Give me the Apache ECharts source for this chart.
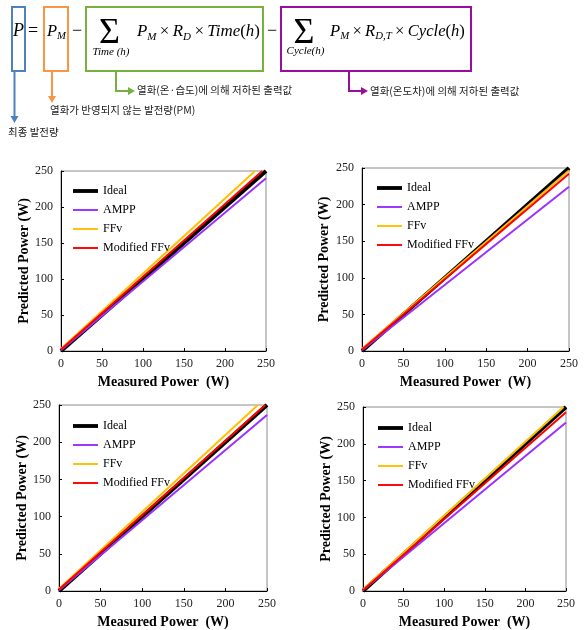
<!DOCTYPE html>
<html>
<head>
<meta charset="utf-8">
<script src="https://cdn.jsdelivr.net/npm/echarts@6/dist/echarts.min.js"></script>
<style>
  html, body { margin: 0; padding: 0; background: #fff; }
  #main { width: 588px; height: 630px; }
</style>
</head>
<body>
<div id="main"></div>
<script>
/* ===== data ===== */
var names  = ['Ideal', 'AMPP', 'FFv', 'Modified FFv'];
var colors = ['#000000', '#9B30FF', '#FFC000', '#FF0000'];
var ticks  = [0, 50, 100, 150, 200, 250];

// [measured, predicted] end points
var idealA = [[0, 0], [250, 250]];
var amppA  = [[0, 1], [250, 240]];
var ffvA   = [[0, 3], [236.6, 250]];
var modA   = [[0, 2], [245.5, 250]];

var idealB = [[0, 0], [250, 250]];
var amppB  = [[0, 1], [250, 224.5]];
var ffvB   = [[0, 3], [250, 246.5]];
var modB   = [[0, 2], [250, 242]];

var idealC = [[0, 0], [250, 250]];
var amppC  = [[0, 1], [250, 236.6]];
var ffvC   = [[0, 3], [239, 250]];
var modC   = [[0, 2], [248, 250]];

var idealD = [[0, 0], [250, 250]];
var amppD  = [[0, 1], [250, 229]];
var ffvD   = [[0, 2], [247, 250]];
var modD   = [[0, 1], [250, 243]];

var panelData = [
    [idealA, amppA, ffvA, modA],
    [idealB, amppB, ffvB, modB],
    [idealC, amppC, ffvC, modC],
    [idealD, amppD, ffvD, modD]
];

/* ===== layout ===== */
var SERIF = '"Liberation Serif", "Times New Roman", serif';
var KR = '"Noto Sans CJK KR", sans-serif';
var panels = [
    { left: 61,  top: 171, width: 205, height: 180, yGap: 30, lgLeft: 73,  lgTop: 185 },
    { left: 362, top: 168, width: 207, height: 183, yGap: 31, lgLeft: 377, lgTop: 182 },
    { left: 59,  top: 405, width: 208, height: 187, yGap: 28, lgLeft: 73,  lgTop: 420 },
    { left: 363, top: 407, width: 203, height: 187, yGap: 28, lgLeft: 378, lgTop: 422 }
];
// flat bar icons for the legend (no marker in the middle)
var thickBar = 'path://M0,0 L26,0 L26,4 L0,4 Z';
var thinBar  = 'path://M0,0 L26,0 L26,2 L0,2 Z';

var grids = [], xAxes = [], yAxes = [], legends = [], series = [];
panels.forEach(function (p, k) {
    grids.push({
        left: p.left, top: p.top, width: p.width, height: p.height,
        show: true, borderColor: '#8c8c8c', borderWidth: 1
    });
    var axisCommon = {
        type: 'value', gridIndex: k, min: 0, max: 250, interval: 50,
        nameLocation: 'middle',
        nameTextStyle: { fontFamily: SERIF, fontWeight: 'bold', fontSize: 14, color: '#000' },
        axisLine: { show: true, lineStyle: { color: '#000', width: 1 } },
        axisTick: { show: true, inside: true, length: 3, lineStyle: { color: '#000' } },
        splitLine: { show: false },
        axisLabel: { fontFamily: SERIF, fontSize: 12, color: '#222' }
    };
    xAxes.push(Object.assign({}, axisCommon, {
        name: 'Measured Power  (W)', nameGap: 24,
        axisLabel: Object.assign({}, axisCommon.axisLabel, { margin: 7 })
    }));
    yAxes.push(Object.assign({}, axisCommon, {
        name: 'Predicted Power (W)', nameGap: p.yGap,
        axisLabel: Object.assign({}, axisCommon.axisLabel, { margin: 8 })
    }));
    legends.push({
        left: p.lgLeft, top: p.lgTop, orient: 'vertical', padding: 0,
        itemWidth: 25, itemHeight: 14, itemGap: 7,
        data: names.map(function (n, i) { return { name: n, icon: i === 0 ? thickBar : thinBar }; }),
        textStyle: { fontFamily: SERIF, fontSize: 12, color: '#000' }
    });
    panelData[k].forEach(function (d, i) {
        series.push({
            name: names[i], type: 'line', xAxisIndex: k, yAxisIndex: k,
            data: d, symbol: 'none', clip: true,
            lineStyle: { color: colors[i], width: i === 0 ? 4 : 2 },
            itemStyle: { color: colors[i] }
        });
    });
});

/* ===== formula on top ===== */
var ctx = document.createElement('canvas').getContext('2d');
function fontOf(size, italic) {
    return (italic ? 'italic ' : '') + size + 'px ' + SERIF;
}
function textEl(str, x, baseline, size, italic, align, color) {
    return {
        type: 'text', x: x, y: baseline - 0.34 * size, silent: true,
        style: {
            text: str, fill: color || '#000', font: fontOf(size, italic),
            textAlign: align || 'left', textVerticalAlign: 'middle',
            align: align || 'left', verticalAlign: 'middle'
        }
    };
}
// tokens: [text, italic, subscript]; shrink the font so the run spans x..x2
function run(tokens, x, x2, baseline) {
    function widthAt(main) {
        var w = 0;
        tokens.forEach(function (t) {
            ctx.font = fontOf(t[2] ? main * 0.65 : main, t[1]);
            w += ctx.measureText(t[0]).width;
        });
        return w;
    }
    var main = 20 * (x2 - x) / widthAt(20);
    var out = [];
    tokens.forEach(function (t) {
        var size = t[2] ? main * 0.65 : main;
        out.push(textEl(t[0], x, t[2] ? baseline + main * 0.2 : baseline, size, t[1]));
        ctx.font = fontOf(size, t[1]);
        x += ctx.measureText(t[0]).width;
    });
    return out;
}
function box(x1, y1, x2, y2, color) {
    return { type: 'rect', silent: true, shape: { x: x1, y: y1, width: x2 - x1, height: y2 - y1 },
             style: { fill: 'none', stroke: color, lineWidth: 2 } };
}
function arrow(points, color, dir) {
    var last = points[points.length - 1];
    var head;
    if (dir === 'down') head = [[last[0] - 4, last[1]], [last[0] + 4, last[1]], [last[0], last[1] + 7]];
    else head = [[last[0], last[1] - 4], [last[0], last[1] + 4], [last[0] + 7, last[1]]];
    return [
        { type: 'polyline', silent: true, shape: { points: points }, style: { stroke: color, lineWidth: 2, fill: null } },
        { type: 'polygon', silent: true, shape: { points: head }, style: { fill: color } }
    ];
}
function krText(str, x, y) {
    return { type: 'text', x: x, y: y, silent: true,
             style: { text: str, fill: '#222', font: '10.5px ' + KR,
                      textAlign: 'left', textVerticalAlign: 'middle', align: 'left', verticalAlign: 'middle' } };
}

var BLUE = '#4F81BD', ORANGE = '#F79646', GREEN = '#77B041', PURPLE = '#990F99';
var BASE = 37;
var TIMES = '\u2009\u00D7\u2009';
var graphics = [];
graphics.push(box(12, 7, 25, 71, BLUE), box(44, 7, 68, 71, ORANGE),
              box(86, 7, 263, 71, GREEN), box(281, 7, 471, 71, PURPLE));
graphics.push(textEl('P', 18.5, BASE, 18, true, 'center'));
graphics.push(textEl('=', 33, BASE, 18, false, 'center'));
graphics = graphics.concat(run([['P', true], ['M', true, true]], 47, 66, BASE));
graphics.push(textEl('\u2212', 77, BASE, 18, false, 'center'));
graphics.push(textEl('\u03A3', 109.5, 46, 36, false, 'center'));
graphics.push(textEl('Time (h)', 111, 56, 11, true, 'center'));
graphics = graphics.concat(run([['P', true], ['M', true, true], [TIMES, false], ['R', true], ['D', true, true],
                                [TIMES, false], ['Time', true], ['(', false], ['h', true], [')', false]], 137, 260, BASE));
graphics.push(textEl('\u2212', 272, BASE, 18, false, 'center'));
graphics.push(textEl('\u03A3', 304, 46, 36, false, 'center'));
graphics.push(textEl('Cycle(h)', 305.5, 55, 11, true, 'center'));
graphics = graphics.concat(run([['P', true], ['M', true, true], [TIMES, false], ['R', true], ['D,T', true, true],
                                [TIMES, false], ['Cycle', true], ['(', false], ['h', true], [')', false]], 330, 465, BASE));

graphics = graphics.concat(arrow([[14.5, 71], [14.5, 116]], BLUE, 'down'));
graphics = graphics.concat(arrow([[52, 71], [52, 96]], ORANGE, 'down'));
graphics = graphics.concat(arrow([[116, 71], [116, 91], [128, 91]], GREEN, 'right'));
graphics = graphics.concat(arrow([[349, 71], [349, 91], [361, 91]], PURPLE, 'right'));

graphics.push(krText('\uC5F4\uD654(\uC628\u00B7\uC2B5\uB3C4)\uC5D0 \uC758\uD574 \uC800\uD558\uB41C \uCD9C\uB825\uAC12', 137, 90));
graphics.push(krText('\uC5F4\uD654(\uC628\uB3C4\uCC28)\uC5D0 \uC758\uD574 \uC800\uD558\uB41C \uCD9C\uB825\uAC12', 370, 91));
graphics.push(krText('\uC5F4\uD654\uAC00 \uBC18\uC601\uB418\uC9C0 \uC54A\uB294 \uBC1C\uC804\uB7C9(PM)', 50, 110));
graphics.push(krText('\uCD5C\uC885 \uBC1C\uC804\uB7C9', 8, 132));

var chart = echarts.init(document.getElementById('main'));
chart.setOption({
    animation: false,
    backgroundColor: '#fff',
    grid: grids,
    xAxis: xAxes,
    yAxis: yAxes,
    legend: legends,
    series: series,
    graphic: { elements: graphics }
});
</script>
</body>
</html>
